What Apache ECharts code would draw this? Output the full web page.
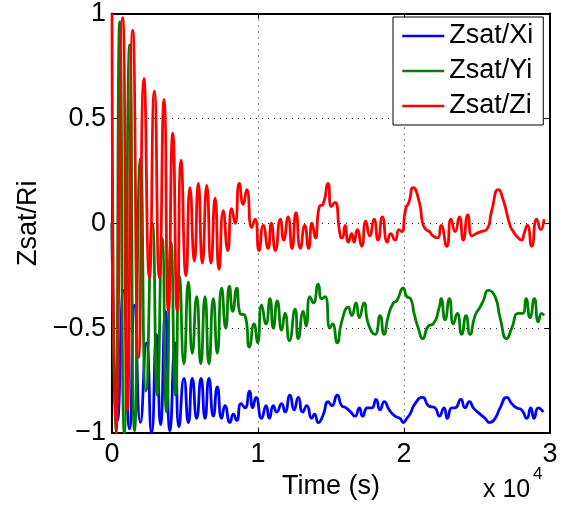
<!DOCTYPE html>
<html>
<head>
<meta charset="utf-8">
<script src="https://cdn.jsdelivr.net/npm/echarts@6/dist/echarts.min.js"></script>
<style>
html,body{margin:0;padding:0;background:#fff;}
#chart{width:581px;height:508px;}
</style>
</head>
<body>
<div id="chart"></div>
<script>
// Tick values
var xTicks = [0, 10000, 20000, 30000];
var yTicks = [-1, -0.5, 0, 0.5, 1];
var seriesNames = ['Zsat/Xi', 'Zsat/Yi', 'Zsat/Zi'];

// [time (s), value]
var zsatXi = [
[0,0.00],[380,-0.94],[790,-0.32],[1200,-0.98],[1540,-0.39],[1950,-0.95],[2360,-0.57],[2710,-1.00],
[3050,-0.53],[3320,-0.96],[3660,-0.42],[3970,-0.99],[4320,-0.57],[4590,-0.97],[4930,-0.74],[5230,-0.95],
[5500,-0.74],[5800,-0.93],[6100,-0.74],[6370,-0.93],[6640,-0.74],[6940,-0.92],[7210,-0.78],[7510,-0.93],
[7740,-0.87],[8080,-0.95],[8310,-0.91],[8540,-0.94],[8840,-0.86],[9110,-0.88],[9410,-0.80],[9640,-0.88],
[9860,-0.83],[10250,-0.93],[10550,-0.87],[10780,-0.93],[11050,-0.87],[11280,-0.90],[11620,-0.86],[11850,-0.90],
[12190,-0.82],[12470,-0.89],[12760,-0.83],[13060,-0.90],[13340,-0.87],[13680,-0.93],[13870,-0.91],[14130,-0.95],
[14430,-0.92],[14820,-0.85],[15050,-0.87],[15430,-0.82],[15730,-0.87],[16030,-0.88],[16350,-0.90],[16650,-0.92],
[16940,-0.88],[17170,-0.92],[17490,-0.88],[17790,-0.88],[18080,-0.84],[18360,-0.89],[18650,-0.85],[18990,-0.89],
[19390,-0.92],[19730,-0.93],[19950,-0.95],[20190,-0.93],[20410,-0.91],[20760,-0.86],[21280,-0.83],[21670,-0.87],
[22130,-0.88],[22420,-0.92],[22740,-0.88],[22970,-0.93],[23270,-0.88],[23500,-0.88],[23890,-0.84],[24180,-0.88],
[24480,-0.85],[24750,-0.88],[25210,-0.91],[25550,-0.93],[25850,-0.95],[26240,-0.93],[26580,-0.88],[27040,-0.83],
[27380,-0.86],[27720,-0.88],[28060,-0.89],[28410,-0.93],[28680,-0.88],[28910,-0.93],[29200,-0.88],[29540,-0.90]
];

var zsatYi = [
[0,0.00],[240,-1.00],[530,0.96],[840,-1.00],[1210,0.85],[1550,-0.99],[1950,0.31],[2330,-0.80],
[2760,0.00],[3100,-0.82],[3430,-0.07],[3730,-0.90],[4040,-0.09],[4350,-0.82],[4620,-0.25],[4930,-0.67],
[5230,-0.28],[5500,-0.62],[5800,-0.35],[6080,-0.67],[6370,-0.35],[6640,-0.67],[6940,-0.36],[7210,-0.62],
[7510,-0.31],[7790,-0.50],[8040,-0.30],[8270,-0.42],[8540,-0.31],[8770,-0.43],[9110,-0.44],[9410,-0.59],
[9730,-0.48],[9970,-0.57],[10250,-0.39],[10550,-0.48],[10820,-0.36],[11050,-0.50],[11320,-0.37],[11620,-0.51],
[11850,-0.43],[12150,-0.56],[12540,-0.41],[12760,-0.55],[13100,-0.42],[13290,-0.49],[13560,-0.35],[13790,-0.38],
[14130,-0.29],[14360,-0.36],[14590,-0.35],[14930,-0.50],[15100,-0.48],[15430,-0.57],[15730,-0.47],[16190,-0.40],
[16420,-0.44],[16710,-0.38],[16940,-0.45],[17260,-0.38],[17560,-0.48],[18020,-0.53],[18360,-0.44],[18630,-0.53],
[18930,-0.44],[19270,-0.38],[19500,-0.37],[19950,-0.31],[20190,-0.35],[20460,-0.36],[20690,-0.43],[20980,-0.50],
[21280,-0.55],[21670,-0.49],[22010,-0.48],[22420,-0.40],[22540,-0.36],[22810,-0.46],[23110,-0.36],[23380,-0.48],
[23650,-0.43],[23950,-0.53],[24250,-0.44],[24520,-0.53],[24870,-0.44],[25210,-0.40],[25430,-0.37],[25780,-0.32],
[26240,-0.35],[26580,-0.45],[27040,-0.55],[27380,-0.50],[27830,-0.43],[28130,-0.43],[28360,-0.36],[28630,-0.45],
[28930,-0.36],[29200,-0.47],[29430,-0.43],[29590,-0.44]
];

var zsatZi = [
[0,1.00],[270,-1.00],[730,0.98],[1050,-0.89],[1420,0.92],[1820,-0.64],[2190,0.69],[2560,-0.26],
[2900,0.63],[3240,-0.26],[3560,0.59],[3860,-0.42],[4160,0.43],[4470,-0.42],[4730,0.30],[5070,-0.25],
[5340,0.17],[5640,-0.18],[5910,0.19],[6190,-0.19],[6490,0.18],[6780,-0.19],[7060,0.12],[7330,-0.22],
[7620,0.06],[7930,-0.13],[8200,0.07],[8430,0.00],[8720,0.19],[8990,0.09],[9230,0.16],[9570,-0.02],
[9800,0.02],[10070,-0.13],[10360,-0.01],[10690,-0.12],[10910,0.00],[11190,-0.13],[11530,0.02],[11760,-0.08],
[12060,0.03],[12330,-0.12],[12600,0.05],[12900,-0.12],[13200,-0.01],[13470,-0.12],[13700,0.00],[13930,-0.07],
[14200,0.08],[14450,0.09],[14800,0.19],[15020,0.08],[15260,0.10],[15640,-0.06],[15780,-0.07],[15960,-0.01],
[16190,-0.09],[16420,-0.05],[16580,-0.09],[16800,-0.03],[17100,-0.11],[17380,0.01],[17650,-0.06],[17950,0.02],
[18220,-0.08],[18520,0.03],[18860,-0.09],[19090,-0.05],[19390,-0.08],[19660,-0.03],[19840,-0.04],[20120,0.07],
[20340,0.10],[20620,0.17],[21050,0.10],[21280,0.00],[21510,-0.03],[21740,-0.04],[21970,-0.06],[22310,-0.07],
[22540,-0.01],[22930,-0.11],[23220,0.02],[23500,-0.04],[23790,0.03],[24060,-0.08],[24370,0.04],[24660,-0.06],
[24930,-0.05],[25280,-0.04],[25670,-0.03],[26010,0.06],[26460,0.16],[26800,0.11],[27260,-0.01],[27490,-0.04],
[27830,-0.07],[28060,-0.08],[28220,-0.05],[28450,-0.01],[28750,-0.11],[29090,0.02],[29370,-0.03],[29590,0.02]
];

var colors = ['#0000ff', '#008000', '#ff0000'];
var FONT = 'Liberation Sans, Arial, Helvetica, sans-serif';

var chart = echarts.init(document.getElementById('chart'), null, {renderer: 'canvas'});

function fmtY(v) {
  if (v < 0) return '\u2212' + String(Math.abs(v));
  return String(v);
}

var gridLine = {show: true, lineStyle: {color: '#222', width: 1, type: [1, 5]}};
var axisLineStyle = {show: true, onZero: false, lineStyle: {color: '#000', width: 2}};
var tickStyle = {show: true, inside: true, length: 5, lineStyle: {color: '#000', width: 1}};

var option = {
  backgroundColor: '#fff',
  animation: false,
  textStyle: {fontFamily: FONT},
  grid: {left: 112, right: 31, top: 11, bottom: 75, containLabel: false},
  legend: {
    data: seriesNames,
    orient: 'vertical',
    left: 393,
    top: 17,
    padding: [4, 10, 4, 8],
    itemGap: 5,
    itemWidth: 42,
    itemHeight: 30,
    backgroundColor: '#fff',
    borderColor: '#000',
    borderWidth: 1,
    borderRadius: 0,
    itemStyle: {opacity: 0},
    lineStyle: {width: 2.5},
    textStyle: {fontFamily: FONT, fontSize: 27, color: '#000', lineHeight: 30}
  },
  xAxis: [{
    type: 'value', min: xTicks[0], max: xTicks[xTicks.length - 1], interval: xTicks[1] - xTicks[0],
    position: 'bottom',
    name: 'Time (s)', nameLocation: 'middle', nameGap: 28,
    nameTextStyle: {fontFamily: FONT, fontSize: 27, color: '#000'},
    axisLine: axisLineStyle,
    axisTick: tickStyle,
    axisLabel: {fontFamily: FONT, fontSize: 27, color: '#000', margin: 8,
      formatter: function (v) { return String(v / 10000); }},
    splitLine: gridLine
  }, {
    type: 'value', min: xTicks[0], max: xTicks[xTicks.length - 1], interval: xTicks[1] - xTicks[0],
    position: 'top',
    axisLine: axisLineStyle,
    axisTick: tickStyle,
    axisLabel: {show: false},
    splitLine: {show: false}
  }],
  yAxis: [{
    type: 'value', min: yTicks[0], max: yTicks[yTicks.length - 1], interval: yTicks[1] - yTicks[0],
    position: 'left',
    name: 'Zsat/Ri', nameLocation: 'middle', nameGap: 66,
    nameTextStyle: {fontFamily: FONT, fontSize: 27, color: '#000'},
    axisLine: axisLineStyle,
    axisTick: tickStyle,
    axisLabel: {fontFamily: FONT, fontSize: 27, color: '#000', margin: 6, formatter: fmtY},
    splitLine: gridLine
  }, {
    type: 'value', min: yTicks[0], max: yTicks[yTicks.length - 1], interval: yTicks[1] - yTicks[0],
    position: 'right',
    axisLine: axisLineStyle,
    axisTick: tickStyle,
    axisLabel: {show: false},
    splitLine: {show: false}
  }],
  graphic: [
    {type: 'text', left: 483, top: 478, style: {text: 'x 10', font: '25px ' + FONT, fill: '#000'}},
    {type: 'text', left: 533, top: 466, style: {text: '4', font: '17px ' + FONT, fill: '#000'}}
  ],
  series: [zsatXi, zsatYi, zsatZi].map(function (d, i) {
    return {
      name: seriesNames[i], type: 'line', data: d,
      xAxisIndex: 0, yAxisIndex: 0,
      symbol: 'none', showSymbol: false, smooth: 0.6, clip: true,
      lineStyle: {color: colors[i], width: 2.8},
      itemStyle: {color: colors[i]}
    };
  })
};
chart.setOption(option);
</script>
</body>
</html>
